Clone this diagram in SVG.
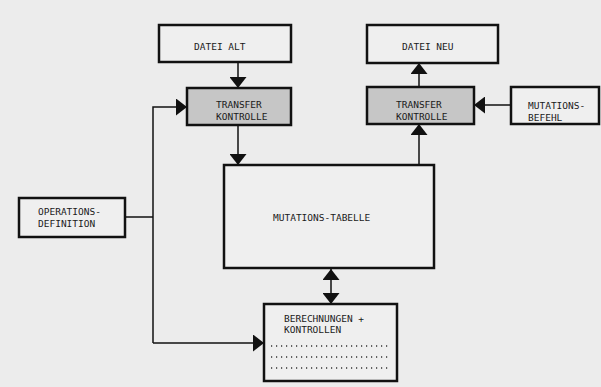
<svg xmlns="http://www.w3.org/2000/svg" width="601" height="387" viewBox="0 0 601 387">
<defs>
<style>
.box{fill:#efefef;stroke:#111;stroke-width:2.5}
.shaded{fill:#c6c6c6;stroke:#111;stroke-width:2.5}
.t{font-family:"DejaVu Sans Mono","Liberation Mono",monospace;font-size:9.5px;fill:#1a1a1a}
.c{fill:none;stroke:#111;stroke-width:1.5}
.dots{fill:none;stroke:#333;stroke-width:1.5;stroke-dasharray:1.2 3.8}
</style>
<marker id="ah" markerUnits="userSpaceOnUse" markerWidth="11" markerHeight="17" refX="11" refY="8.5" orient="auto">
<path d="M0,0 L11,8.5 L0,17 z" fill="#111"/>
</marker>
<marker id="as" markerUnits="userSpaceOnUse" markerWidth="11" markerHeight="17" refX="0" refY="8.5" orient="auto">
<path d="M11,0 L0,8.5 L11,17 z" fill="#111"/>
</marker>
</defs>
<rect width="601" height="387" fill="#ececec"/>
<g id="connectors">
<path class="c" d="M238,62 V88" marker-end="url(#ah)"/>
<path class="c" d="M238,125 V165" marker-end="url(#ah)"/>
<path class="c" d="M419,165 V124" marker-end="url(#ah)"/>
<path class="c" d="M419,87 V63" marker-end="url(#ah)"/>
<path class="c" d="M511,105 H474" marker-end="url(#ah)"/>
<path class="c" d="M125,217 H153"/>
<path class="c" d="M153,343 V107 H187" marker-end="url(#ah)"/>
<path class="c" d="M153,343 H264" marker-end="url(#ah)"/>
<path class="c" d="M331,269 V304" marker-start="url(#as)" marker-end="url(#ah)"/>
</g>
<g id="datei-alt">
<rect class="box" x="159" y="25" width="132" height="37"/>
<text class="t" x="194" y="50">DATEI ALT</text>
</g>
<g id="transfer-links">
<rect class="shaded" x="187" y="88" width="104" height="37"/>
<text class="t" x="216" y="108">TRANSFER</text>
<text class="t" x="216" y="120">KONTROLLE</text>
</g>
<g id="datei-neu">
<rect class="box" x="367" y="25" width="131" height="38"/>
<text class="t" x="402" y="50">DATEI NEU</text>
</g>
<g id="transfer-rechts">
<rect class="shaded" x="367" y="87" width="107" height="37"/>
<text class="t" x="396" y="108">TRANSFER</text>
<text class="t" x="396" y="120">KONTROLLE</text>
</g>
<g id="mutations-befehl">
<rect class="box" x="511" y="87" width="88" height="37"/>
<text class="t" x="528" y="109">MUTATIONS-</text>
<text class="t" x="528" y="121">BEFEHL</text>
</g>
<g id="operations-definition">
<rect class="box" x="19" y="198" width="106" height="39"/>
<text class="t" x="38" y="215">OPERATIONS-</text>
<text class="t" x="38" y="227">DEFINITION</text>
</g>
<g id="mutations-tabelle">
<rect class="box" x="224" y="165" width="210" height="103"/>
<text class="t" x="273" y="221">MUTATIONS-TABELLE</text>
</g>
<g id="berechnungen">
<rect class="box" x="264" y="304" width="133" height="77"/>
<text class="t" x="284" y="322">BERECHNUNGEN +</text>
<text class="t" x="284" y="333">KONTROLLEN</text>
<path class="dots" d="M271,346 H390 M271,357 H390 M271,368 H390"/>
</g>
</svg>
